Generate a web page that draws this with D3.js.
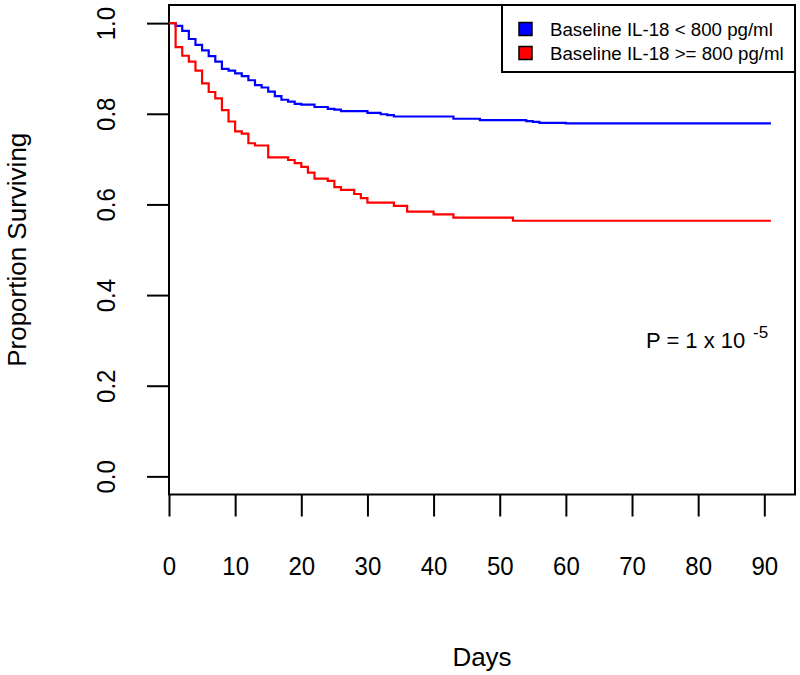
<!DOCTYPE html>
<html>
<head>
<meta charset="utf-8">
<script src="https://cdn.jsdelivr.net/npm/d3@7/dist/d3.min.js"></script>
<style>
  html, body { margin: 0; padding: 0; background: #fff; }
  svg { display: block; font-family: "Liberation Sans", Arial, sans-serif; }
</style>
</head>
<body>
<svg id="chart" width="800" height="675"></svg>
<script>
// ---- data ----
const seriesNames = ["Baseline IL-18 < 800 pg/ml", "Baseline IL-18 >= 800 pg/ml"];
const seriesColors = ["#0000ff", "#ff0000"];

const lowDays = [0, 1, 2, 3, 4, 5, 6, 7, 8, 9, 10, 11, 12, 13, 14, 15, 16, 17, 18, 19, 20, 22, 24, 25, 26, 30, 32, 33, 34, 43, 47, 54, 55, 56, 60, 91];
const lowSurv = [1.0, 0.994, 0.983, 0.965, 0.952, 0.940, 0.927, 0.915, 0.899, 0.895, 0.889, 0.883, 0.874, 0.863, 0.858, 0.849, 0.839, 0.831, 0.827, 0.822, 0.820, 0.815, 0.811, 0.809, 0.806, 0.802, 0.799, 0.797, 0.794, 0.789, 0.786, 0.784, 0.782, 0.780, 0.779, 0.779];

const highDays = [0, 1, 2, 3, 4, 5, 6, 7, 8, 9, 10, 11, 12, 13, 15, 18, 19, 20, 21, 22, 24, 25, 26, 28, 29, 30, 34, 36, 40, 43, 52, 91];
const highSurv = [1.0, 0.947, 0.928, 0.915, 0.895, 0.867, 0.848, 0.834, 0.808, 0.783, 0.761, 0.756, 0.735, 0.730, 0.704, 0.698, 0.691, 0.683, 0.670, 0.657, 0.652, 0.638, 0.632, 0.623, 0.614, 0.604, 0.597, 0.584, 0.578, 0.571, 0.564, 0.564];

const xTicks = [0, 10, 20, 30, 40, 50, 60, 70, 80, 90];
const yTicks = [0.0, 0.2, 0.4, 0.6, 0.8, 1.0];
const pText = "P = 1 x 10";
const pExp = "-5";

// ---- layout ----
const L = 169, R = 795, T = 5, B = 494.5;
const svg = d3.select("#chart");

const x = d3.scaleLinear().domain([0, 91 * 1.04]).range([L, R]);
const y = d3.scaleLinear().domain([-0.04, 1.04]).range([B, T]);

// box
svg.append("rect")
  .attr("x", L).attr("y", T).attr("width", R - L).attr("height", B - T)
  .attr("fill", "none").attr("stroke", "#000").attr("stroke-width", 2);

// x axis
const xAxis = d3.axisBottom(x).tickValues(xTicks).tickSize(22).tickPadding(0).tickFormat(d3.format("d"));
const gx = svg.append("g").attr("transform", `translate(0,${B})`).call(xAxis);
gx.select(".domain").remove();
gx.selectAll(".tick line").attr("stroke", "#000").attr("stroke-width", 2);
gx.selectAll(".tick text")
  .attr("dy", null)
  .attr("fill", "#000")
  .style("font-size", "24px")
  .style("font-family", "'Liberation Sans', Arial, sans-serif")
  .attr("y", 0)
  .attr("transform", `translate(0,${575 - B}) scale(1,1.07)`);

// y axis
const yAxis = d3.axisLeft(y).tickValues(yTicks).tickSize(22).tickFormat(d3.format(".1f"));
const gy = svg.append("g").attr("transform", `translate(${L},0)`).call(yAxis);
gy.select(".domain").remove();
gy.selectAll(".tick line").attr("stroke", "#000").attr("stroke-width", 2);
gy.selectAll(".tick text")
  .attr("x", null).attr("dy", null)
  .attr("fill", "#000")
  .attr("text-anchor", "middle")
  .style("font-size", "24px")
  .style("font-family", "'Liberation Sans', Arial, sans-serif")
  .attr("transform", `translate(${115 - L},0) rotate(-90) scale(1,1.07)`);

// curves
const line = d3.line().x(d => x(d[0])).y(d => y(d[1])).curve(d3.curveStepAfter);
const series = [
  { days: lowDays, surv: lowSurv, color: seriesColors[0] },
  { days: highDays, surv: highSurv, color: seriesColors[1] }
];
series.forEach(s => {
  const pts = s.days.map((d, i) => [d, s.surv[i]]);
  svg.append("path")
    .attr("d", line(pts))
    .attr("fill", "none")
    .attr("stroke", s.color)
    .attr("stroke-width", 2.2);
});

// axis titles
svg.append("text")
  .attr("x", (L + R) / 2).attr("y", 666)
  .attr("text-anchor", "middle")
  .style("font-size", "26px")
  .text("Days");
svg.append("text")
  .attr("transform", `translate(26,${(T + B) / 2}) rotate(-90)`)
  .attr("text-anchor", "middle")
  .style("font-size", "26px")
  .text("Proportion Surviving");

// p-value
svg.append("text").attr("x", 646).attr("y", 348).style("font-size", "22px").text(pText);
svg.append("text").attr("x", 753).attr("y", 338).style("font-size", "17px").text(pExp);

// legend
const lg = svg.append("g");
lg.append("rect")
  .attr("x", 502).attr("y", T).attr("width", R - 502).attr("height", 72 - T)
  .attr("fill", "#fff").attr("stroke", "#000").attr("stroke-width", 2);
seriesNames.forEach((name, i) => {
  const cy = 29 + i * 24;
  lg.append("rect")
    .attr("x", 519).attr("y", cy - 6.5).attr("width", 13).attr("height", 13)
    .attr("fill", seriesColors[i]).attr("stroke", "#000").attr("stroke-width", 1.5);
  lg.append("text")
    .attr("x", 550).attr("y", cy + 7)
    .style("font-size", "18.7px")
    .text(name);
});
</script>
</body>
</html>
